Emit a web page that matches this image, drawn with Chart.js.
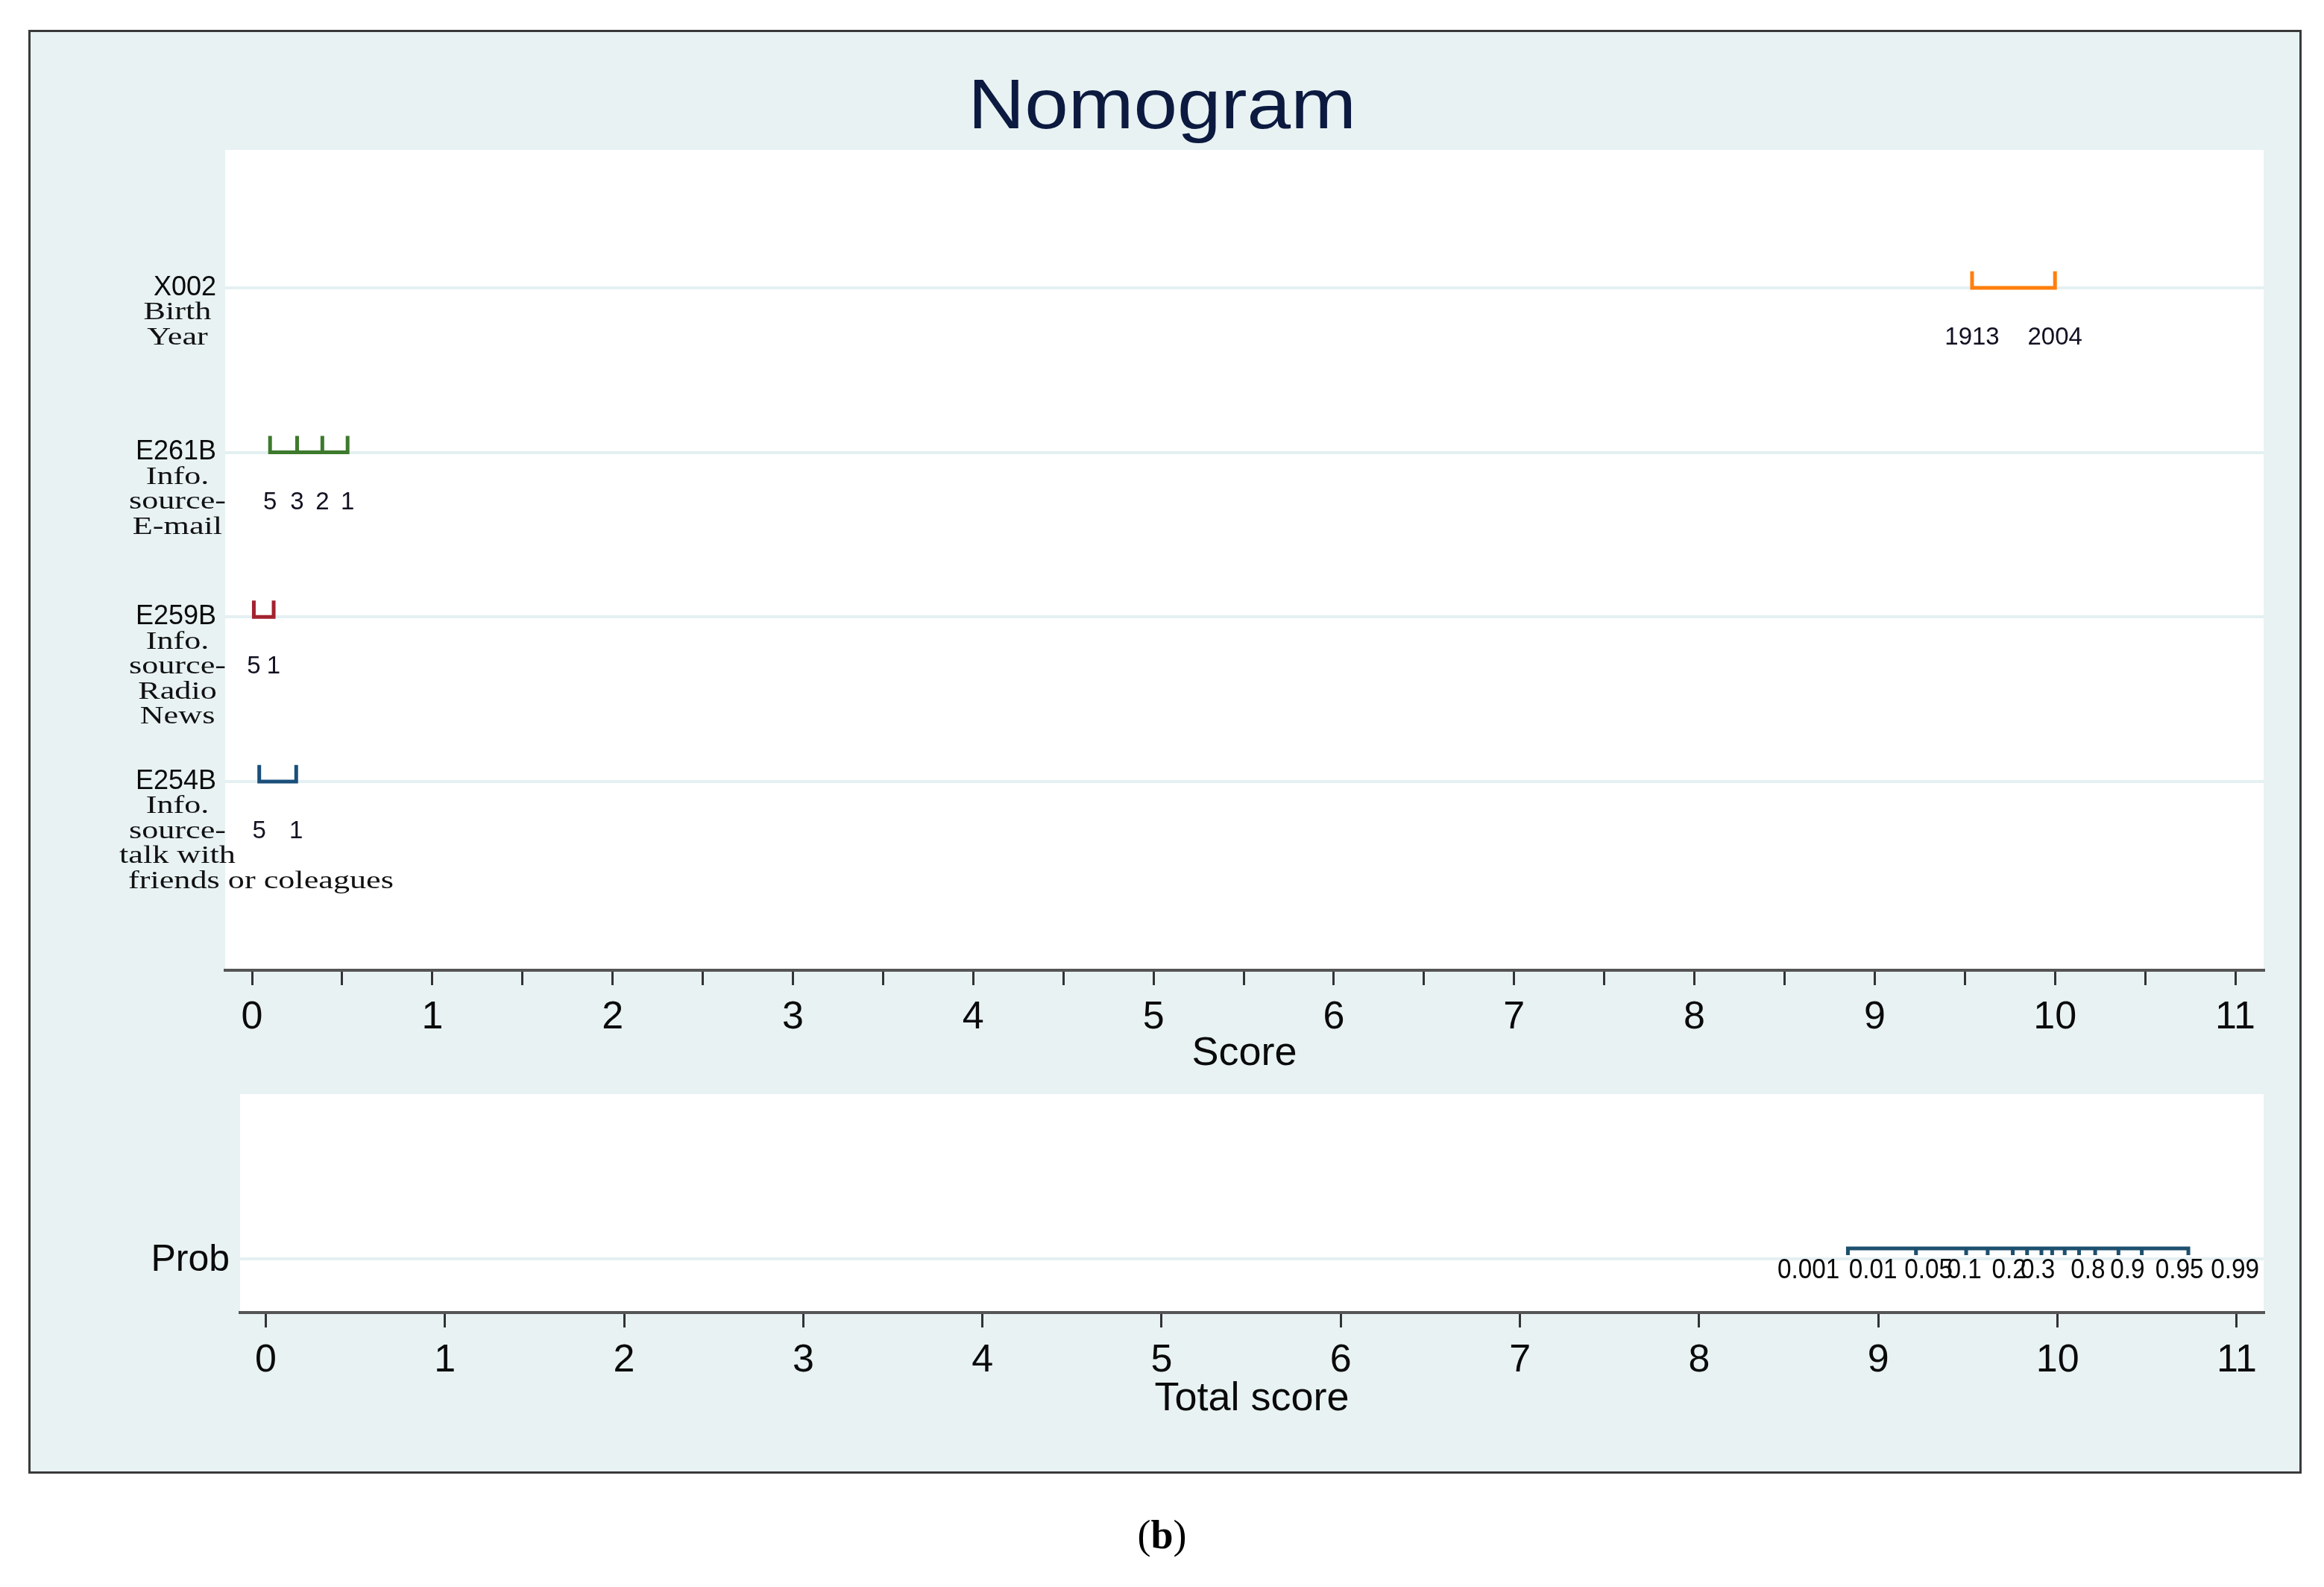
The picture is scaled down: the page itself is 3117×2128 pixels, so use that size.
<!DOCTYPE html>
<html>
<head>
<meta charset="utf-8">
<script src="https://cdn.jsdelivr.net/npm/chart.js@4.4.1/dist/chart.umd.min.js"></script>
<style>
html, body { margin: 0; padding: 0; background: #fff; }
body { width: 3117px; height: 2128px; position: relative; overflow: hidden; font-family: 'Liberation Sans', Arial, sans-serif; }
#frame { position: absolute; left: 38px; top: 40px; width: 3043px; height: 1930px; background: #e8f2f3; border: 3px solid #3a3a3a; }
#title { position: absolute; left: 0; top: 93px; width: 3117px; text-align: center; font-size: 94px; line-height: 94px; color: #0c1a40; transform: scaleX(1.12); }
#caption { position: absolute; left: 0; top: 2028px; width: 3117px; text-align: center; font-family: 'Liberation Serif', serif; font-size: 54px; line-height: 60px; color: #000; }
canvas { position: absolute; left: 0; top: 0; }
</style>
</head>
<body>
<div id="frame"></div>
<div id="title">Nomogram</div>
<canvas id="scores" width="3117" height="1460" style="width:3117px;height:1460px"></canvas>
<canvas id="total" width="3117" height="1930" style="width:3117px;height:1930px"></canvas>
<div id="caption">(<b>b</b>)</div>
<script>
// variables, top to bottom
var rowNames = ['X002', 'E261B', 'E259B', 'E254B'];
var rowText = [
  ['Birth', 'Year'],
  ['Info.', 'source-', 'E-mail'],
  ['Info.', 'source-', 'Radio', 'News'],
  ['Info.', 'source-', 'talk with', 'friends or coleagues']
];
var rowPos = [4, 3, 2, 1];

// points on the score axis for each level
var birthScore = [9.54, 10.0];
var birthLabels = ['1913', '2004'];
var emailScore = [0.10, 0.25, 0.39, 0.53];
var emailLabels = ['5', '3', '2', '1'];
var radioScore = [0.01, 0.12];
var radioLabels = ['5', '1'];
var talkScore = [0.04, 0.245];
var talkLabels = ['5', '1'];

// probability scale on total score
var probScore = [8.83, 9.21, 9.49, 9.61, 9.75, 9.83, 9.91, 9.97, 10.04, 10.12, 10.21, 10.34, 10.47, 10.73];
var probLabels = ['0.001', '0.01', '0.05', '0.1', '0.2', '0.3', '0.8', '0.9', '0.95', '0.99'];
var probLabelAt = [8.61, 8.97, 9.28, 9.48, 9.73, 9.89, 10.17, 10.39, 10.68, 10.99];

Chart.defaults.font.family = "'Liberation Sans', Arial, sans-serif";
Chart.defaults.color = '#111';

// path of a bracket: flat line at row, a tick at every level
function bracket(xs, base, h) {
  var pts = [];
  xs.forEach(function (x, i) {
    if (i > 0) pts.push({x: x, y: base});
    pts.push({x: x, y: base + h});
    pts.push({x: x, y: base});
  });
  return pts;
}

function ds(data, color) {
  return {data: data, showLine: true, borderColor: color, borderWidth: 5, pointRadius: 0,
    borderJoinStyle: 'miter', borderCapStyle: 'butt', tension: 0};
}

var whiteArea = {
  id: 'whiteArea',
  beforeDraw: function (chart) {
    var a = chart.chartArea, ctx = chart.ctx;
    ctx.save();
    ctx.fillStyle = '#fff';
    ctx.fillRect(a.left, a.top, a.right - a.left, a.bottom - a.top);
    ctx.restore();
  }
};

var rows = [
  {score: birthScore, labels: birthLabels, color: '#ff7f0e'},
  {score: emailScore, labels: emailLabels, color: '#3d7a2c'},
  {score: radioScore, labels: radioLabels, color: '#a3222f'},
  {score: talkScore, labels: talkLabels, color: '#1a4f7a'}
];

var rowLabelPlugin = {
  id: 'rowLabels',
  afterDraw: function (chart) {
    var ctx = chart.ctx, xs = chart.scales.x, ys = chart.scales.y;
    ctx.save();
    ctx.textBaseline = 'middle';
    rowNames.forEach(function (name, i) {
      var y = ys.getPixelForValue(rowPos[i]);
      ctx.fillStyle = '#0a0a0a';
      ctx.textAlign = 'right';
      ctx.font = "36px 'Liberation Sans', Arial";
      ctx.fillText(name, 290, y);
      ctx.font = "34px 'Liberation Serif', serif";
      ctx.fillStyle = '#111';
      rowText[i].forEach(function (t, k) {
        var ly = y + 33.5 * (k + 1);
        var w = ctx.measureText(t).width * 1.3;
        ctx.save();
        if (w > 280) {
          ctx.translate(172, ly);
          ctx.textAlign = 'left';
        } else {
          ctx.translate(238, ly);
          ctx.textAlign = 'center';
        }
        ctx.scale(1.3, 1);
        ctx.fillText(t, 0, 0);
        ctx.restore();
      });
      // level labels under each bracket
      ctx.font = "33px 'Liberation Sans', Arial";
      ctx.fillStyle = '#111122';
      ctx.textAlign = 'center';
      rows[i].score.forEach(function (v, k) {
        ctx.fillText(rows[i].labels[k], xs.getPixelForValue(v), y + 67);
      });
    });
    ctx.restore();
  }
};

function xAxis(min, max, step, title, h, titlePad, tickPad) {
  return {
    type: 'linear', min: min, max: max,
    afterFit: function (s) { s.height = h; },
    border: {display: true, color: '#555', width: 4},
    grid: {drawOnChartArea: false, drawTicks: true, tickLength: 20, color: '#333', lineWidth: 3},
    ticks: {
      stepSize: step, includeBounds: false, padding: tickPad,
      font: {size: 52}, color: '#0a0a0a', maxRotation: 0, autoSkip: false,
      callback: function (v) { return Number.isInteger(v) ? String(v) : ''; }
    },
    title: {display: true, text: title, font: {size: 54}, color: '#0a0a0a', padding: {top: 0, bottom: titlePad}}
  };
}

function yAxis(min, max, ticks) {
  return {
    type: 'linear', min: min, max: max,
    afterFit: function (s) { s.width = 0; },
    afterBuildTicks: function (s) { s.ticks = ticks.map(function (v) { return {value: v}; }); },
    border: {display: false},
    grid: {color: '#e4f0f2', lineWidth: 4, drawTicks: false},
    ticks: {display: false}
  };
}

new Chart(document.getElementById('scores'), {
  type: 'scatter',
  data: {
    datasets: rows.map(function (r, i) { return ds(bracket(r.score, rowPos[i], 0.1), r.color); })
  },
  options: {
    responsive: false, animation: false, devicePixelRatio: 1,
    layout: {padding: {left: 302, right: 81, top: 201, bottom: 0}},
    plugins: {legend: {display: false}, tooltip: {enabled: false}},
    scales: {
      x: xAxis(-0.149, 11.157, 0.5, 'Score', 159, 14, 12),
      y: yAxis(-0.147, 4.838, rowPos)
    }
  },
  plugins: [whiteArea, rowLabelPlugin]
});

var probPlugin = {
  id: 'probLabels',
  afterDraw: function (chart) {
    var ctx = chart.ctx, xs = chart.scales.x, ys = chart.scales.y;
    var y = ys.getPixelForValue(1);
    ctx.save();
    ctx.textBaseline = 'middle';
    ctx.fillStyle = '#0a0a0a';
    ctx.textAlign = 'right';
    ctx.font = "50px 'Liberation Sans', Arial";
    ctx.fillText('Prob', 308, y + 2);
    ctx.textAlign = 'center';
    ctx.font = "37px 'Liberation Sans', Arial";
    probLabels.forEach(function (t, k) {
      ctx.save();
      ctx.translate(xs.getPixelForValue(probLabelAt[k]), y + 16);
      ctx.scale(0.9, 1);
      ctx.fillText(t, 0, 0);
      ctx.restore();
    });
    ctx.restore();
  }
};

new Chart(document.getElementById('total'), {
  type: 'scatter',
  data: {
    datasets: [ds(bracket(probScore, 1.063, -0.04), '#1d506e')]
  },
  options: {
    responsive: false, animation: false, devicePixelRatio: 1,
    layout: {padding: {left: 322, right: 81, top: 1467, bottom: 0}},
    plugins: {legend: {display: false}, tooltip: {enabled: false}},
    scales: {
      x: xAxis(-0.143, 11.15, 1, 'Total score', 170, 21, 13),
      y: yAxis(0.674, 2.0, [1])
    }
  },
  plugins: [whiteArea, probPlugin]
});
</script>
</body>
</html>
